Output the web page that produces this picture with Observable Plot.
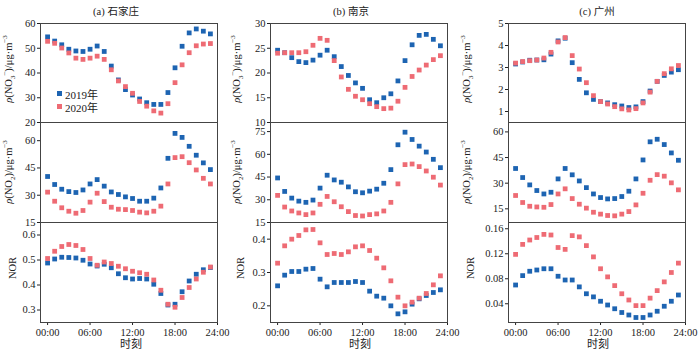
<!DOCTYPE html>
<html><head><meta charset="utf-8">
<script src="https://cdn.jsdelivr.net/npm/d3@7"></script>
<script src="https://cdn.jsdelivr.net/npm/@observablehq/plot@0.6"></script>
<style>
body{margin:0;background:#fff;}
#chart{position:relative;width:700px;height:354px;font-family:"Liberation Serif","Noto Sans CJK SC",serif;color:#222;overflow:hidden;}
.abs{position:absolute;white-space:nowrap;}
.title{font-size:10.5px;transform:translate(-50%,-50%);}
.ylab{font-size:10.5px;transform:translate(-50%,-50%) rotate(-90deg);}
.ylab sub,.ylab sup{font-size:7px;}
.xlab{font-size:11px;transform:translate(-50%,-50%);}
.leg{font-size:11px;}
.sq{position:absolute;width:5px;height:5px;}
</style></head>
<body><div id="chart"></div>
<script>
const hours = [0,1,2,3,4,5,6,7,8,9,10,11,12,13,14,15,16,17,18,19,20,21,22,23];
const xTicks = [0,6,12,18,24];
const xTickLabels = ["00:00","06:00","12:00","18:00","24:00"];
const years = ["2019年","2020年"];
const cities = ["(a) 石家庄","(b) 南京","(c) 广州"];

const sjzNO3_2019 = [54.6,52.9,51.4,49.6,48.9,48.7,49.6,50.9,48.7,42.8,37.2,33.3,31.1,29.5,28.0,27.3,27.3,32.1,42.1,50.8,56.2,57.8,56.9,55.8];
const sjzNO3_2020 = [52.8,52.0,50.1,48.1,46.0,45.5,46.0,46.8,45.5,41.3,36.8,34.5,31.8,28.5,26.6,24.7,23.8,27.6,36.1,43.3,48.2,51.0,51.7,51.9];
const sjzNO2_2019 = [40.3,35.9,33.3,32.0,31.5,32.9,36.2,38.6,35.0,31.8,30.4,29.1,28.2,26.7,26.7,28.4,34.0,50.3,64.0,61.8,56.9,52.0,47.8,44.1];
const sjzNO2_2020 = [31.7,26.7,23.1,21.2,20.1,21.6,26.2,31.1,26.5,23.4,22.3,22.1,21.6,20.7,20.3,21.2,24.0,36.2,50.7,51.2,47.9,43.9,39.3,36.2];
const sjzNOR_2019 = [0.488,0.504,0.511,0.510,0.508,0.499,0.484,0.476,0.483,0.469,0.445,0.429,0.424,0.426,0.424,0.403,0.366,0.320,0.323,0.373,0.416,0.443,0.461,0.470];
const sjzNOR_2020 = [0.506,0.535,0.554,0.562,0.558,0.542,0.506,0.479,0.492,0.486,0.475,0.465,0.455,0.449,0.443,0.420,0.379,0.323,0.311,0.350,0.390,0.424,0.451,0.472];

const njNO3_2019 = [24.6,24.1,23.1,22.3,22.1,22.6,23.6,24.6,23.3,21.3,19.5,18.0,16.9,14.6,14.0,15.0,15.8,18.4,22.5,25.7,27.6,27.8,26.8,25.5];
const njNO3_2020 = [24.0,24.1,24.1,24.1,24.3,25.6,27.0,26.6,22.5,19.2,16.7,15.3,14.6,13.8,13.2,12.8,12.9,14.3,17.1,19.3,20.6,21.6,22.7,23.5];
const njNO2_2019 = [44.4,35.5,31.1,29.1,28.3,29.8,37.7,46.2,43.1,41.6,38.5,35.3,34.6,35.7,37.0,40.9,49.9,66.3,74.6,69.8,65.4,61.5,56.7,51.2];
const njNO2_2020 = [32.9,25.2,22.6,21.3,20.2,21.3,27.0,32.2,28.7,25.4,22.2,19.6,19.3,20.2,20.7,22.6,28.3,40.5,53.2,53.6,51.9,49.0,44.9,39.7];
const njNOR_2019 = [0.260,0.292,0.303,0.303,0.310,0.312,0.280,0.257,0.270,0.270,0.270,0.273,0.270,0.244,0.229,0.223,0.200,0.176,0.182,0.205,0.221,0.231,0.240,0.248];
const njNOR_2020 = [0.328,0.380,0.400,0.411,0.428,0.429,0.389,0.354,0.357,0.354,0.362,0.377,0.380,0.366,0.343,0.314,0.275,0.226,0.200,0.211,0.223,0.237,0.263,0.290];

const gzNO3_2019 = [3.16,3.25,3.33,3.34,3.35,3.61,4.21,4.33,3.22,2.46,1.85,1.55,1.45,1.39,1.31,1.25,1.18,1.21,1.45,1.93,2.37,2.64,2.79,2.90];
const gzNO3_2020 = [3.20,3.27,3.31,3.34,3.43,3.69,4.16,4.36,3.54,2.93,2.31,1.72,1.45,1.34,1.22,1.12,1.07,1.13,1.39,1.88,2.37,2.72,2.94,3.09];
const gzNO2_2019 = [38.6,33.3,29.0,25.7,23.7,24.7,32.5,38.6,34.9,31.3,27.4,23.7,21.6,20.8,21.0,22.2,25.3,32.5,43.6,54.2,55.7,52.6,47.7,43.4];
const gzNO2_2020 = [22.8,18.7,16.5,16.1,15.9,17.5,23.7,26.7,21.0,17.7,15.4,13.0,11.9,11.1,10.9,11.9,13.4,17.3,24.1,31.7,35.0,34.1,30.2,26.1];
const gzNOR_2019 = [0.070,0.085,0.092,0.094,0.096,0.096,0.084,0.078,0.078,0.067,0.056,0.051,0.044,0.038,0.032,0.026,0.022,0.018,0.018,0.022,0.028,0.036,0.044,0.054];
const gzNOR_2020 = [0.119,0.135,0.142,0.146,0.151,0.150,0.130,0.127,0.149,0.147,0.133,0.115,0.096,0.083,0.069,0.056,0.046,0.037,0.037,0.049,0.061,0.075,0.090,0.105];

const BLUE = "#1d64b2", PINK = "#ee6b74";
const chart = document.getElementById("chart");
const colLeft = [40, 270, 508], FW = 177;
const rowTop = [23, 122, 222, 322];

const panels = [
  [ {a:sjzNO3_2019,b:sjzNO3_2020,domain:[20,60],ticks:[20,30,40,50,60]},
    {a:sjzNO2_2019,b:sjzNO2_2020,domain:[15,70],ticks:[15,30,45,60]},
    {a:sjzNOR_2019,b:sjzNOR_2020,domain:[0.25,0.65],ticks:[0.3,0.4,0.5,0.6]} ],
  [ {a:njNO3_2019,b:njNO3_2020,domain:[10,30],ticks:[10,15,20,25,30]},
    {a:njNO2_2019,b:njNO2_2020,domain:[15,81],ticks:[15,30,45,60,75]},
    {a:njNOR_2019,b:njNOR_2020,domain:[0.15,0.45],ticks:[0.2,0.3,0.4]} ],
  [ {a:gzNO3_2019,b:gzNO3_2020,domain:[0.5,5],ticks:[1,2,3,4,5]},
    {a:gzNO2_2019,b:gzNO2_2020,domain:[7,65.5],ticks:[15,30,45,60]},
    {a:gzNOR_2019,b:gzNOR_2020,domain:[0.01,0.17],ticks:[0.04,0.08,0.12,0.16]} ]
];

function place(el, x, y){ el.style.left = x+"px"; el.style.top = y+"px"; chart.appendChild(el); return el; }
function div(cls, html){ const d = document.createElement("div"); d.className = "abs "+cls; d.innerHTML = html; return d; }

panels.forEach((col, c) => {
  col.forEach((p, r) => {
    const mL = 45, mR = 14, mT = 8, mB = r === 2 ? 24 : 8;
    const H = rowTop[r+1] - rowTop[r];
    const table = [
      ...hours.map((h,i)=>({h, v:p.a[i], year:years[0]})),
      ...hours.map((h,i)=>({h, v:p.b[i], year:years[1]}))
    ];
    const svg = Plot.plot({
      width: mL+FW+mR, height: mT+H+mB,
      marginLeft: mL, marginRight: mR, marginTop: mT, marginBottom: mB,
      style: {background:"transparent", overflow:"visible", fontFamily:"Liberation Serif, serif", fontSize:"10.5px", color:"#222"},
      x: {domain:[-1,24], axis: r === 2 ? "bottom" : null, ticks: xTicks,
          tickFormat: d => xTickLabels[xTicks.indexOf(d)], tickSize:3, tickPadding:3, label:null},
      y: {domain:p.domain, ticks:p.ticks, tickFormat: d => String(d), tickSize:3, tickPadding:2, label:null},
      color: {type:"ordinal", domain:years, range:[BLUE, PINK]},
      marks: [
        Plot.frame({stroke:"#444"}),
        Plot.dot(table, {x:"h", y:"v", fill:"year", symbol:"square", r:2.7})
      ]
    });
    svg.style.position = "absolute";
    svg.style.left = (colLeft[c]-mL)+"px";
    svg.style.top = (rowTop[r]-mT)+"px";
    chart.appendChild(svg);
  });
});

// titles
const titleX = [116, 351, 597];
cities.forEach((t,c)=> place(div("title", t), titleX[c], 10));
// x labels
const xlabX = [131, 360, 598];
xlabX.forEach(x => place(div("xlab","时刻"), x, 343));
// y labels
const yNO3 = '<i>ρ</i>(NO<sub>3</sub><sup>−</sup>)/μg·m<sup>−3</sup>';
const yNO2 = '<i>ρ</i>(NO<sub>2</sub>)/μg·m<sup>−3</sup>';
const ylabX = [9, 237, 467];
ylabX.forEach((x,c)=>{
  place(div("ylab", yNO3), x, (rowTop[0]+rowTop[1])/2 - 4);
  place(div("ylab", yNO2), x, (rowTop[1]+rowTop[2])/2);
  place(div("ylab", "NOR"), x+3, (rowTop[2]+rowTop[3])/2 - 4);
});
// legend
[[BLUE, years[0], 93],[PINK, years[1], 106]].forEach(([col, txt, y])=>{
  const s = document.createElement("div"); s.className = "sq"; s.style.background = col;
  place(s, 56.5, y-2.5);
  place(div("leg", txt), 65, y-7);
});
</script></body></html>
